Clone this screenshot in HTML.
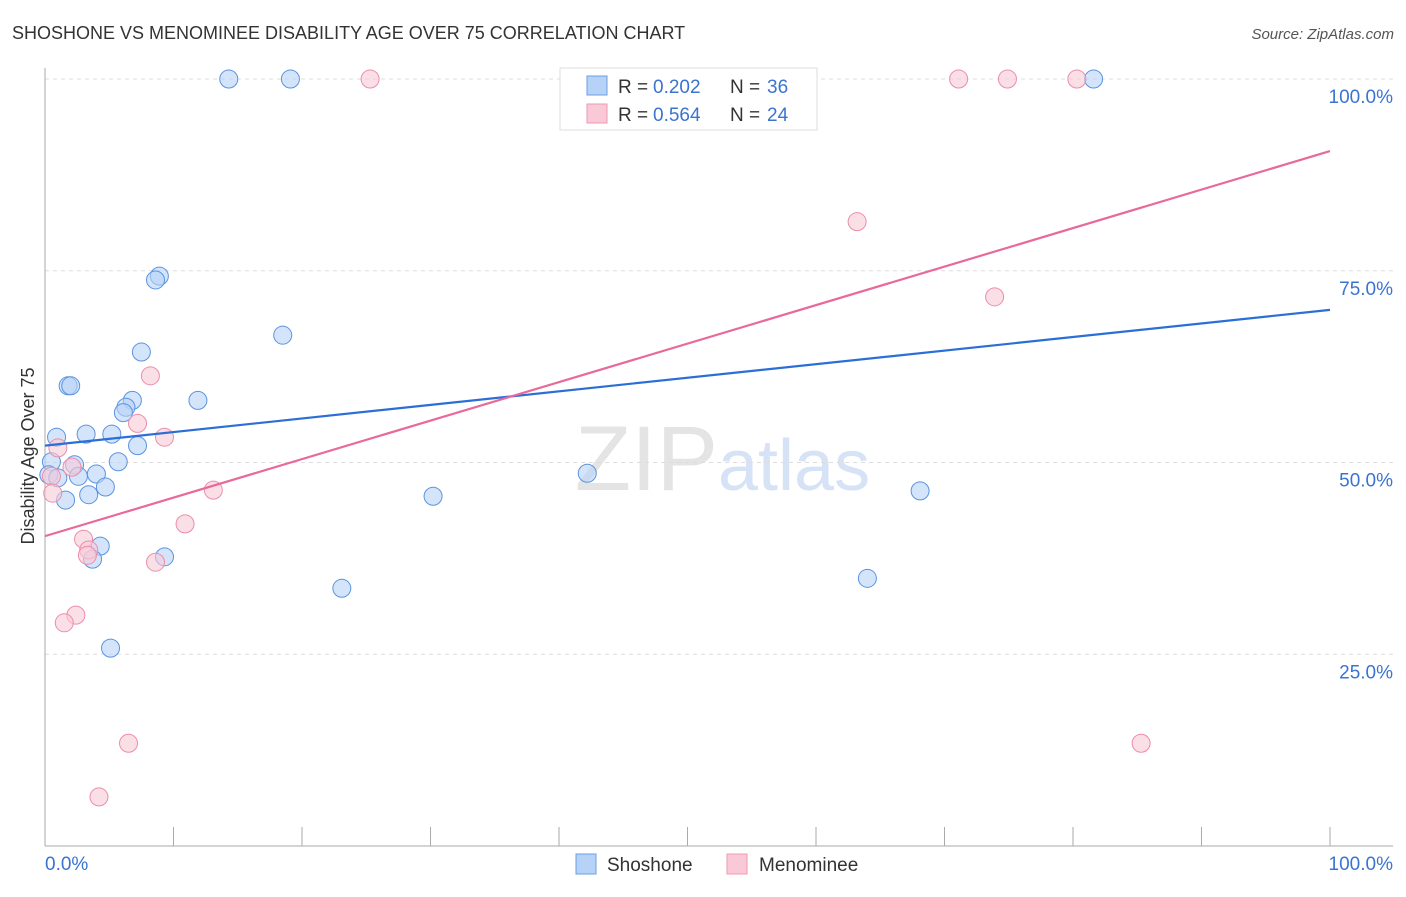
<!DOCTYPE html>
<html><head><meta charset="utf-8"><style>
body{margin:0;background:#fff;font-family:"Liberation Sans",sans-serif}
svg text{font-family:"Liberation Sans",sans-serif}
</style></head><body>
<svg width="1406" height="892" xmlns="http://www.w3.org/2000/svg">
<text x="12" y="39" font-size="18" fill="#333">SHOSHONE VS MENOMINEE DISABILITY AGE OVER 75 CORRELATION CHART</text>
<text x="1394" y="39" font-size="15" fill="#555" font-style="italic" text-anchor="end">Source: ZipAtlas.com</text>
<text x="718" y="490" font-size="92" fill="#e4e4e4" text-anchor="end" font-family="Liberation Serif">ZIP</text>
<text x="718" y="490" font-size="72" fill="#d6e2f5">atlas</text>
<g id="grid"></g><g id="axes"></g>
<text transform="translate(34,456) rotate(-90)" font-size="18" fill="#333" text-anchor="middle">Disability Age Over 75</text>
<g id="marks"></g>
<g>
<rect x="560" y="68" width="257" height="62" fill="#fff" stroke="#ddd"/>
<rect x="587" y="76" width="20" height="19" fill="#b7d2f7" stroke="#6a9fe6"/>
<rect x="587" y="104" width="20" height="19" fill="#f9c9d7" stroke="#ee99b3"/>
<text x="618" y="93" font-size="19" fill="#333">R =</text>
<text x="653" y="93" font-size="19" fill="#3b73d1">0.202</text>
<text x="730" y="93" font-size="19" fill="#333">N =</text>
<text x="767" y="93" font-size="19" fill="#3b73d1">36</text>
<text x="618" y="121" font-size="19" fill="#333">R =</text>
<text x="653" y="121" font-size="19" fill="#3b73d1">0.564</text>
<text x="730" y="121" font-size="19" fill="#333">N =</text>
<text x="767" y="121" font-size="19" fill="#3b73d1">24</text>
</g>
<g>
<rect x="576" y="854" width="20" height="20" fill="#b7d2f7" stroke="#6a9fe6"/>
<text x="607" y="871" font-size="19" fill="#333">Shoshone</text>
<rect x="727" y="854" width="20" height="20" fill="#f9c9d7" stroke="#ee99b3"/>
<text x="759" y="871" font-size="19" fill="#333">Menominee</text>
</g>
</svg>
<script>
const shoX=[14.3,19.1,81.6,8.9,8.6,18.5,7.5,1.8,2.0,11.9,6.8,6.3,6.1,0.9,3.2,5.2,7.2,5.7,0.5,2.3,0.3,1.0,2.6,4.0,4.7,3.4,1.6,30.2,42.2,68.1,4.3,3.7,9.3,23.1,64.0,5.1];
const shoY=[100,100,100,74.3,73.8,66.6,64.4,60.0,60.0,58.1,58.1,57.2,56.5,53.3,53.7,53.7,52.2,50.1,50.1,49.7,48.4,48.0,48.2,48.5,46.8,45.8,45.1,45.6,48.6,46.3,39.1,37.4,37.7,33.6,34.9,25.8];
const menX=[25.3,71.1,74.9,80.3,63.2,73.9,8.2,7.2,9.3,1.0,2.1,0.5,0.6,13.1,10.9,3.0,3.4,3.3,8.6,2.4,1.5,6.5,85.3,4.2];
const menY=[100,100,100,100,81.4,71.6,61.3,55.1,53.3,51.9,49.4,48.2,46.0,46.4,42.0,40.0,38.6,37.9,37.0,30.1,29.1,13.4,13.4,6.4];
const trendSho=[52.2,69.9];
const trendMen=[40.4,90.6];
const yTicks=[25,50,75,100];
const yTickLabels=["25.0%","50.0%","75.0%","100.0%"];
const NS="http://www.w3.org/2000/svg";
const xS=v=>45+v*12.85, yS=v=>846-v*7.67;
function mk(tag,attrs,parent){const e=document.createElementNS(NS,tag);for(const k in attrs)e.setAttribute(k,attrs[k]);document.getElementById(parent).appendChild(e);return e;}
yTicks.forEach((t,i)=>{
 const l=mk('line',{x1:45,x2:1393,y1:yS(t),y2:yS(t),stroke:'#ddd','stroke-dasharray':'4,4'},'grid');
 
 
 const tx=mk('text',{x:1393,y:yS(t)+24,'font-size':19,fill:'#3b73d1','text-anchor':'end'},'grid');
 tx.textContent=yTickLabels[i];
 
 
});
mk('line',{x1:45,x2:45,y1:68,y2:846,stroke:'#aaa'},'axes');
mk('line',{x1:45,x2:1393,y1:846,y2:846,stroke:'#aaa'},'axes');
for(let k=1;k<=10;k++){const t=mk('line',{x1:xS(k*10),x2:xS(k*10),y1:827,y2:846,stroke:'#aaa'},'axes');
 
 }
const x0=mk('text',{x:45,y:870,'font-size':19,fill:'#3b73d1'},'axes');x0.textContent='0.0%';


const x1=mk('text',{x:1393,y:870,'font-size':19,fill:'#3b73d1','text-anchor':'end'},'axes');x1.textContent='100.0%';


function pts(X,Y,fill,stroke,name){X.forEach((x,i)=>{const c=mk('circle',{cx:xS(x),cy:yS(Y[i]),r:9,fill:fill,'fill-opacity':0.6,stroke:stroke,'stroke-width':1},'marks');
 
 });}
pts(shoX,shoY,'#b7d2f7','#5a94e0','shoshone-point');
pts(menX,menY,'#f9c9d7','#ec8dab','menominee-point');
const ls=mk('line',{x1:xS(0),y1:yS(trendSho[0]),x2:xS(100),y2:yS(trendSho[1]),stroke:'#2b6fd6','stroke-width':2.2},'marks');


const lm=mk('line',{x1:xS(0),y1:yS(trendMen[0]),x2:xS(100),y2:yS(trendMen[1]),stroke:'#e8699a','stroke-width':2.2},'marks');


</script>
</body></html>
